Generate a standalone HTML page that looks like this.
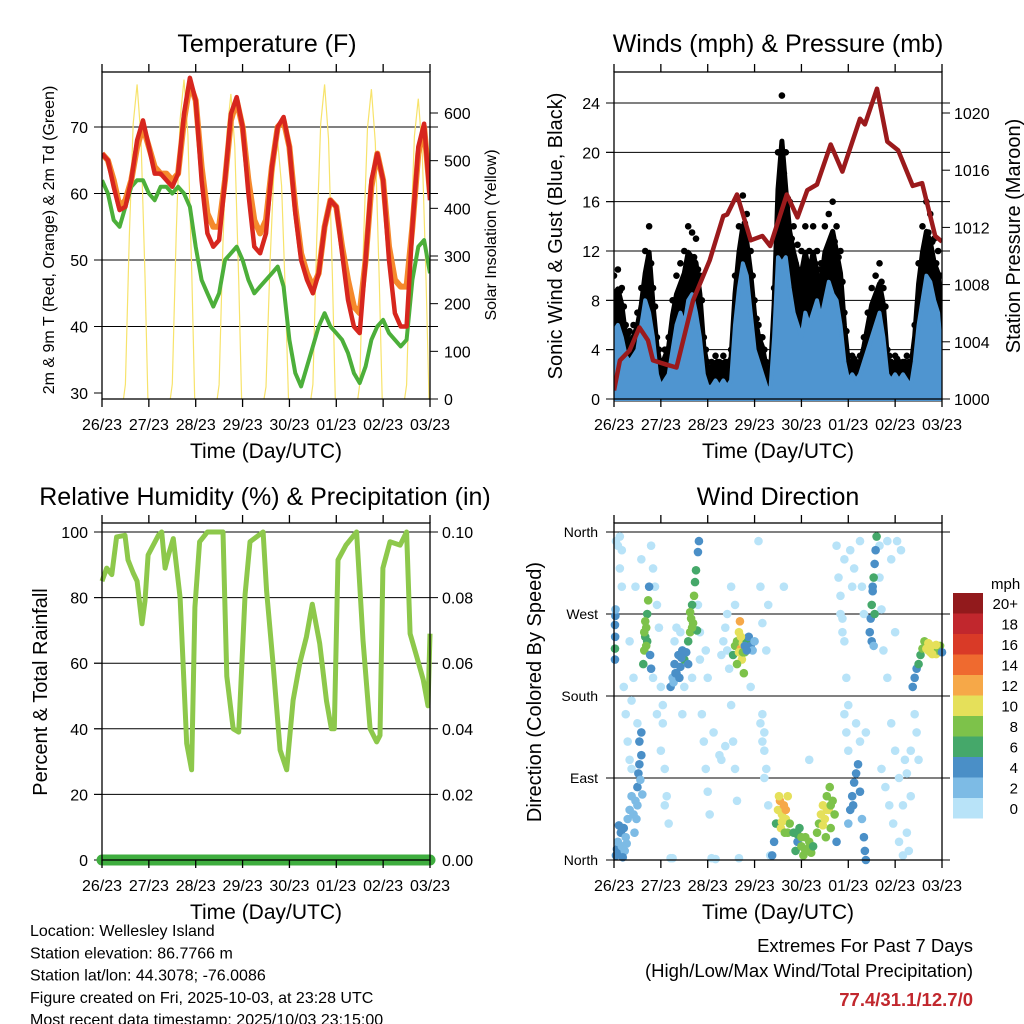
<!DOCTYPE html>
<html><head><meta charset="utf-8"><style>
body{margin:0;background:#fff;}
svg{display:block;font-family:"Liberation Sans",Arial,sans-serif;}
</style></head><body>
<svg id="chart" width="1024" height="1024" viewBox="0 0 1024 1024"></svg>
<script>
// ---------- DATA ----------
const dayLabels=["26/23","27/23","28/23","29/23","30/23","01/23","02/23","03/23"];
const tempHours=[0,3,6,9,12,15,18,21,24,27,30,33,36,39,42,45,48,51,54,57,60,63,66,69,72,75,78,81,84,87,90,93,96,99,102,105,108,111,114,117,120,123,126,129,132,135,138,141,144,147,150,153,156,159,162,165,168];
const temp2m=[66,65,61,57.5,58,62,68,71,67,63,63,62,61,63,72,77.4,74,62,54,52,53,62,72,74.5,70,60,52,51,54,64,70,71.5,67,57,50,47,45,48,55,59,58,51,44,40,39,50,62,66,62,50,42,40,40,55,67,70.5,59];
const temp9m=[66,65,62,58,59,62,67,70,67,64,63,63,62,63,71,76.5,74,64,57,55,55,62,71,74,70,62,56,54,56,64,70,71,67,58,51,48,46,48,55,59,58,52,47,43,42,50,61,66,62,52,47,46,46,55,66,70,60];
const dew2m=[62,60,56,55,58,61,62,62,60,59,61,61,60,61,60,58,52,47,45,43,45,50,51,52,50,47,45,46,47,48,49,46,38,33,31,34,37,40,42,40,39,38,36,33,31.5,34,38,40,41,39,38,37,38,47,52,53,48];
const solarPeaks=[660,670,640,540,660,650,630];
const solarShape=[0,30,330,560,1,530,250,0];
const solarShapeHours=[11,12,14,16,18,20,22,23.5];
const tempTicks=[30,40,50,60,70];
const solarTicks=[0,100,200,300,400,500,600];

const windHours2=[];for(let i=0;i<=84;i++)windHours2.push(i*2);
const windSpeed=[5.5,6,5,3.5,3,3.5,4,6,8,7,5,2,1,1.5,2,4,6,7,6,8,8.5,7,5,2,1,1,1.5,1,1.5,1,1.5,6,9,11,10,7,4,3,2,1,0.5,5,11.5,11,11.5,9,7,6,5,7,6,7,8,6.5,8,9.5,8.5,8,6,3,1.5,2,1.5,2,3,4,5,6,7,5,2,1.5,2,1.5,2,1.5,1,3,6,8,10,9.5,8,7,3];
const windGust=[10,10.5,9,6,5.5,6,7,9,12,14,9,5,3,4,5,8,10,11,12,14,13.5,13,10,5,3,3,3.5,3,3.5,3,4,10,14,16.5,15,12,8,6,5,3,2,9,20,24.6,20,16,14,12.5,12,14,12,14,12,11,14,15,16,14,12,7,3.5,3.5,3,3.5,5,7,9,10,11,9,4,3,3.5,3,3,3.5,3,6,11,14,16,15,13,12,8];
const pressHours=[0,3,8,13,17.4,20,27,32,40.5,49,56,58,63,70,76,80,88.5,94,99,104,111,117,126,128.5,134.7,140,145.5,153,157.8,164.5,168];
const pressVals=[1000.6,1002.7,1003.4,1005.0,1004.1,1002.7,1002.4,1002.2,1006.9,1009.7,1012.8,1012.9,1014.3,1011.1,1011.4,1010.7,1014.3,1012.7,1014.6,1015.0,1017.8,1015.9,1019.6,1019.2,1021.7,1018.0,1017.4,1014.9,1015.1,1011.4,1011.0];
const windTicks=[0,4,8,12,16,20,24];
const pressTicks=[1000,1004,1008,1012,1016,1020];

const rhHours=[0,2.4,5,7.5,11.8,13.3,16,18,20.5,22,23.6,28.9,30.6,32.3,34,36.5,40,43.4,45.9,47.6,50,54,62,63.9,67.2,70,73.3,75.8,82.5,84.3,87.6,91.2,94.6,97.9,101.3,104.7,107.7,111.5,115,117.5,119,120.9,125,130.4,133.7,137.3,140.7,142.4,143.9,147.5,152.7,156,157.8,161.2,164.5,167,168];
const rhVals=[85,89,87,98.5,99,91.5,87.5,85,72,79,93,99,100,89,93,98,80,35.5,27.5,77,97,100,100,56,40,39,81,97,100,82,60,33.5,27.5,48.7,60,68,78,66,48.5,40,40,91.5,96,100,67,40,36,38,89,97,96,100,69,62,55,47,69];
const precipVals=[0,0];
const rhTicks=[0,20,40,60,80,100];
const precipTicks=["0.00","0.02","0.04","0.06","0.08","0.10"];

const dirLabels=["North","East","South","West","North"];
const speedBins=["0","2","4","6","8","10","12","14","16","18","20+"];
const dirObs=[
[1,350,0],[2,345,0],[3,320,0],[4,300,0],[5,190,0],[6,160,0],[7,130,0],[8,110,0],[9,100,0],[12,150,0],[19,345,0],[20,320,0],[21,300,0],[22,280,0],[23,255,0],[24,190,0],[25,170,0],[25,150,0],[26,100,0],[27,70,0],[28,40,0],[29,2,0],[30,2,0],[43,280,0],[44,250,0],[45,160,0],[46,130,0],[47,100,0],[48,75,0],[49,50,0],[50,2,0],[52,1,0],[55,225,0],[56,240,0],[57,255,0],[58,230,0],[59,210,0],[60,170,0],[61,130,0],[62,100,0],[63,65,0],[64,2,0],[74,350,0],[75,300,0],[76,260,0],[76,160,0],[77,140,0],[77,120,0],[78,100,0],[79,60,0],[80,5,0],[114,345,0],[115,310,0],[116,290,0],[117,265,0],[118,240,0],[118,160,0],[119,140,0],[120,120,0],[121,340,0],[126,350,0],[127,300,0],[128,270,0],[129,140,0],[136,310,0],[137,275,0],[138,230,0],[140,200,0],[142,150,0],[144,120,0],[146,90,0],[148,60,0],[150,30,0],[151,10,0],[145,350,0],[147,340,0],[149,110,0],[152,70,0],[136,345,0],[10,200,0],[14,330,0],[35,160,0],[55,110,0],[58,270,0],[70,190,0],[100,110,0],[87,300,0],
[3,355,0],[4,340,0],[8,240,0],[9,175,0],[11,300,0],[20,200,0],[22,160,0],[24,120,0],[26,60,0],[31,240,0],[32,255,0],[34,250,0],[36,190,0],[40,200,0],[44,220,0],[47,230,0],[48,200,0],[51,140,0],[54,115,0],[57,125,0],[60,300,0],[62,280,0],[75,150,0],[76,130,0],[77,90,0],[78,230,0],[79,280,0],[116,270,0],[117,250,0],[118,330,0],[119,200,0],[120,170,0],[124,150,0],[126,130,0],[137,100,0],[139,80,0],[141,60,0],[143,40,0],[146,20,0],[148,5,0],[150,95,0],[152,120,0],[154,160,0],[155,140,0],[156,110,0],[140,350,0],[142,330,0],[144,250,0],[122,300,0],[123,320,0],
[0.5,220,4],[0.5,232,6],[0.6,245,4],[0.5,258,4],[0.7,268,4],[0.8,275,2],
[1,5,4],[1.5,12,4],[2,20,2],[3,8,4],[3.5,30,4],[4,15,2],[5,35,4],[5.5,10,2],[6,25,2],[2.5,38,4],[4.5,3,4],[6.5,18,2],[7,45,2],[8,55,2],[9,70,2],
[10,50,2],[11,65,2],[12,80,4],[12.5,95,4],[13,105,4],[14,115,4],[11.5,45,2],[13.5,88,2],[14.5,72,2],[10.5,30,2],[12,60,2],[13,130,4],[14,140,4],
[15,215,6],[15.5,230,8],[16,245,6],[16.5,255,8],[17,270,6],[17.5,285,8],[18,300,4],[16,262,8],[17,240,6],[18.5,225,4],[19,210,4],[15.5,250,8],[16.5,235,8],
[29,190,4],[30,200,2],[31,215,4],[32,205,4],[33,225,4],[34,212,4],[35,230,4],[36,220,6],[37,228,4],[38,215,4],[30.5,195,2],[33.5,200,4],[31.5,205,4],[34.5,222,4],
[38,240,6],[39,250,8],[39.5,265,8],[40,280,6],[41,290,8],[41.5,305,6],[42,318,6],[40.5,260,8],[42.5,252,6],[43,338,4],[43.5,350,4],[39,272,8],[40,255,8],
[61,225,6],[62,235,8],[63,240,8],[64,250,10],[64.5,262,12],[65,232,12],[65.5,220,10],[66,238,10],[67,228,8],[68,240,6],[69,245,4],[70,235,4],[71,230,2],[72,240,2],[63,215,8],[66.5,205,8],[64,228,10],[65,245,10],[66,228,8],[67,235,4],[68,230,4],
[81,5,4],[82,20,4],[83,40,6],[84,55,10],[85,65,12],[86,50,10],[87,60,12],[88,45,10],[89,70,10],[90,40,8],[85.5,35,10],[87.5,30,8],[84.5,70,10],[86,42,10],[88,55,12],[89,30,8],
[92,30,6],[93,10,6],[94,20,4],[95,35,6],[96,15,8],[97,5,8],[98,25,8],[99,12,8],[100,20,8],[101,8,8],[102,15,6],[94,28,6],[96,25,8],[98,10,8],
[104,30,8],[105,40,8],[106,50,10],[107,60,10],[108,45,10],[109,70,8],[110,55,10],[111,35,8],[112,65,8],[113,50,8],[108.5,25,8],[110.5,80,8],[114,20,4],[107,38,10],[109,55,10],[111,60,8],
[120,40,2],[121,55,4],[122,70,4],[123,85,4],[124,95,4],[125,105,4],[126,75,4],[122.5,60,4],[127,45,2],[128,25,4],[128.5,10,4],[129,0,4],
[131,250,4],[131.5,265,4],[132,280,6],[132.5,295,4],[133,310,6],[133.5,325,4],[134,340,4],[134.5,355,6],[132,240,4],[133,235,2],[132.5,300,4],[133.5,270,6],
[153,190,4],[154,200,4],[155,210,4],[156,215,6],[157,225,6],[158,232,8],[159,240,8],[160,232,10],[161,230,10],[162,228,10],[163,235,10],[164,232,10],[165,226,10],[166,230,8],[167,235,8],[168,228,4],[161,238,10],[163,226,10],[165,236,10]
];
const binColors=["#b8e3f8","#7dbbe5","#4a8fc7","#45a86a","#7dc24a","#e5e05a","#f6a848","#ef6a2f","#d93a27","#c1272d","#921a1c"];

// ---------- HELPERS ----------
const NS="http://www.w3.org/2000/svg";
const svg=document.getElementById("chart");
function mk(tag,attrs,parent){const e=document.createElementNS(NS,tag);for(const k in attrs)e.setAttribute(k,attrs[k]);(parent||svg).appendChild(e);return e;}
function txt(x,y,s,size,anchor,parent,extra){const e=mk("text",Object.assign({x:x,y:y,"font-size":size,"text-anchor":anchor||"middle",fill:"#000"},extra||{}),parent);e.textContent=s;return e;}
function linear(d0,d1,r0,r1){return v=>r0+(v-d0)*(r1-r0)/(d1-d0);}
const TICK=16;

function drawTimeAxis(g,x0,x1,yb,ytop){
  const xs=linear(0,168,x0,x1);
  mk("rect",{x:x0,y:ytop,width:x1-x0,height:yb-ytop,fill:"none",stroke:"#000","stroke-width":1.3},g);
  for(let i=0;i<8;i++){
    const x=xs(i*24);
    const t=mk("line",{x1:x,x2:x,y1:yb,y2:yb+8,stroke:"#000","stroke-width":1.3},g);
    
    
    mk("line",{x1:x,x2:x,y1:ytop,y2:ytop-8,stroke:"#000","stroke-width":1.3},g);
    const l=txt(x,yb+31,dayLabels[i],TICK,"middle",g);
    
    
  }
  const at=txt((x0+x1)/2,yb+59,"Time (Day/UTC)",21,"middle",g);
  
  
  return xs;
}
function path(pts){return pts.map((p,i)=>(i?"L":"M")+p[0].toFixed(1)+","+p[1].toFixed(1)).join("");}

// ---------- PANEL 1: TEMPERATURE ----------
(function(){
  const g=mk("g",{});
  
  
  const X0=102,X1=430,YT=72,YB=399;
  const ys=linear(30,70,393,127);
  const ss=linear(0,600,399,113);
  const t=txt(267,52,"Temperature (F)",25,"middle",g);
  
  
  tempTicks.forEach(v=>{
    const y=ys(v);
    if(v>30){const gl=mk("line",{x1:X0-8,x2:X1+8,y1:y,y2:y,stroke:"#000","stroke-width":1},g);
    
    }
    mk("line",{x1:X0-8,x2:X0,y1:y,y2:y,stroke:"#000"},g);
    txt(X0-14,y+6,String(v),TICK,"end",g);
  });
  solarTicks.forEach(v=>{const y=ss(v);mk("line",{x1:X1,x2:X1+8,y1:y,y2:y,stroke:"#000"},g);txt(X1+14,y+6,String(v),TICK,"start",g);});
  const xs=linear(0,168,X0,X1);
  const clip=mk("clipPath",{id:"c1"},g);mk("rect",{x:X0,y:YT,width:X1-X0,height:YB-YT},clip);
  const pg=mk("g",{"clip-path":"url(#c1)"},g);
  solarPeaks.forEach((pk,d)=>{
    const pts=solarShapeHours.map((h,i)=>{const v=solarShape[i]===1?pk:solarShape[i]*pk/640;return [xs(d*24+h),ss(v)];});
    const p=mk("path",{d:path(pts),fill:"none",stroke:"#f7e36b","stroke-width":1.2},pg);
    
    
  });
  const pd=mk("path",{d:path(tempHours.map((h,i)=>[xs(h),ys(dew2m[i])])),fill:"none",stroke:"#4caf3a","stroke-width":4,"stroke-linejoin":"round"},pg);
  
  
  const po=mk("path",{d:path(tempHours.map((h,i)=>[xs(h),ys(temp9m[i])])),fill:"none",stroke:"#f5892c","stroke-width":6,"stroke-linejoin":"round"},pg);
  
  
  const pr=mk("path",{d:path(tempHours.map((h,i)=>[xs(h),ys(temp2m[i])])),fill:"none",stroke:"#d7261e","stroke-width":4.5,"stroke-linejoin":"round"},pg);
  
  
  drawTimeAxis(g,X0,X1,YB,YT);
  const yl=txt(0,0,"2m & 9m T (Red, Orange) & 2m Td (Green)",16,"middle",g,{transform:"translate(54,240) rotate(-90)"});
  
  
  const yr=txt(0,0,"Solar Insolation (Yellow)",16,"middle",g,{transform:"translate(496,235) rotate(-90)"});
  
  
})();

// ---------- PANEL 2: WINDS ----------
(function(){
  const g=mk("g",{});
  
  
  const X0=614,X1=942,YT=72,YB=399;
  const ys=linear(0,24,399,103);
  const ps=linear(1000,1020,399,113);
  const t=txt(778,52,"Winds (mph) & Pressure (mb)",25,"middle",g);
  
  
  windTicks.forEach(v=>{const y=ys(v);
    if(v>0){const gl=mk("line",{x1:X0-8,x2:X1+8,y1:y,y2:y,stroke:"#000"},g);
    
    }
    mk("line",{x1:X0-8,x2:X0,y1:y,y2:y,stroke:"#000"},g);txt(X0-14,y+6,String(v),TICK,"end",g);});
  pressTicks.forEach(v=>{const y=ps(v);mk("line",{x1:X1,x2:X1+8,y1:y,y2:y,stroke:"#000"},g);txt(X1+12,y+6,String(v),TICK,"start",g);});
  const xs=linear(0,168,X0,X1);
  const clip=mk("clipPath",{id:"c2"},g);mk("rect",{x:X0,y:YT,width:X1-X0,height:YB-YT+4},clip);
  const pg=mk("g",{"clip-path":"url(#c2)"},g);
  const gustPts=windHours2.map((h,i)=>[xs(h),ys(windGust[i]*0.85)]);
  const ga=mk("path",{d:path([[xs(0),ys(0)]].concat(gustPts,[[xs(168),ys(0)]]))+"Z",fill:"#000",stroke:"#000","stroke-width":5,"stroke-linejoin":"round"},pg);
  
  
  windHours2.forEach((h,i)=>{
    const c=mk("circle",{cx:xs(h),cy:ys(windGust[i]),r:3.3,fill:"#000"},pg);
    
    
    const c2=mk("circle",{cx:xs(h)+2,cy:ys((windGust[i]+windSpeed[i])/2+0.5),r:3.3,fill:"#000"},pg);
    
    
  });
  const wPts=windHours2.map((h,i)=>[xs(h),ys(windSpeed[i])]);
  const wa=mk("path",{d:path([[xs(0),ys(0)]].concat(wPts,[[xs(168),ys(0)]]))+"Z",fill:"#4f95d0",stroke:"#4f95d0","stroke-width":4,"stroke-linejoin":"round"},pg);
  
  
  const pl=mk("path",{d:path(pressHours.map((h,i)=>[xs(h),ps(pressVals[i])])),fill:"none",stroke:"#9b1a1c","stroke-width":4.5,"stroke-linejoin":"round"},pg);
  
  
  drawTimeAxis(g,X0,X1,YB,YT);
  const yl=txt(0,0,"Sonic Wind & Gust (Blue, Black)",20,"middle",g,{transform:"translate(562,236) rotate(-90)"});
  
  
  const yr=txt(0,0,"Station Pressure (Maroon)",20,"middle",g,{transform:"translate(1020,236) rotate(-90)"});
  
  
})();

// ---------- PANEL 3: RH ----------
(function(){
  const g=mk("g",{});
  
  
  const X0=102,X1=430,YT=523,YB=860;
  const ys=linear(0,100,860,532);
  const t=txt(265,505,"Relative Humidity (%) & Precipitation (in)",25,"middle",g);
  
  
  rhTicks.forEach((v,i)=>{const y=ys(v);
    if(v>0){const gl=mk("line",{x1:X0-8,x2:X1+8,y1:y,y2:y,stroke:"#000"},g);
    
    }
    mk("line",{x1:X0-8,x2:X0,y1:y,y2:y,stroke:"#000"},g);
    txt(X0-14,y+6,String(v),TICK,"end",g);
    txt(X1+12,y+6,precipTicks[i],TICK,"start",g);});
  const xs=linear(0,168,X0,X1);
  const rl=mk("path",{d:path(rhHours.map((h,i)=>[xs(h),ys(rhVals[i])])),fill:"none",stroke:"#8dc84b","stroke-width":5,"stroke-linejoin":"round"},g);
  
  
  const pr=linear(0,0.1,860,532);
  const pl=mk("line",{x1:xs(0),x2:xs(168),y1:pr(precipVals[0]),y2:pr(precipVals[1]),stroke:"#3fae3f","stroke-width":11,"stroke-linecap":"round"},g);
  
  
  drawTimeAxis(g,X0,X1,YB,YT);
  const yl=txt(0,0,"Percent & Total Rainfall",20,"middle",g,{transform:"translate(47,692) rotate(-90)"});
  
  
})();

// ---------- PANEL 4: WIND DIRECTION ----------
(function(){
  const g=mk("g",{});
  
  
  const X0=614,X1=942,YT=523,YB=860;
  const ys=linear(0,360,860,532);
  const t=txt(778,505,"Wind Direction",25,"middle",g);
  
  
  dirLabels.forEach((s,i)=>{const y=ys(i*90);
    const gl=mk("line",{x1:X0-8,x2:X1+8,y1:y,y2:y,stroke:"#000"},g);
    
    
    txt(X0-16,y+5,s,14,"end",g);});
  const xs=linear(0,168,X0,X1);
  dirObs.forEach(o=>{
    const bi=Math.min(10,Math.floor(o[2]/2));
    const c=mk("circle",{cx:xs(o[0]),cy:ys(o[1]),r:4.3,fill:binColors[bi]},g);
    
    
  });
  drawTimeAxis(g,X0,X1,YB,YT);
  const yl=txt(0,0,"Direction (Colored By Speed)",20,"middle",g,{transform:"translate(541,692) rotate(-90)"});
  
  
  const lg=mk("g",{},g);
  
  
  txt(991,589,"mph",15,"start",lg);
  speedBins.forEach((s,i)=>{
    const y=798-i*20.5;
    const r=mk("rect",{x:953,y:y,width:30,height:20.5,fill:binColors[i]},lg);
    
    
    txt(1018,y+16,s,15,"end",lg);
  });
})();

// ---------- FOOTER TEXT ----------
(function(){
  const g=mk("g",{});
  
  
  ["Location: Wellesley Island","Station elevation: 86.7766 m","Station lat/lon: 44.3078; -76.0086","Figure created on Fri, 2025-10-03, at 23:28 UTC","Most recent data timestamp: 2025/10/03 23:15:00"].forEach((s,i)=>txt(30,936+i*22.3,s,16,"start",g));
  const g2=mk("g",{});
  
  
  txt(973,952,"Extremes For Past 7 Days",18.5,"end",g2);
  txt(973,977,"(High/Low/Max Wind/Total Precipitation)",18.5,"end",g2);
  txt(973,1006,"77.4/31.1/12.7/0",18.5,"end",g2,{fill:"#c1272d","font-weight":"bold"});
})();
</script>
</body></html>
